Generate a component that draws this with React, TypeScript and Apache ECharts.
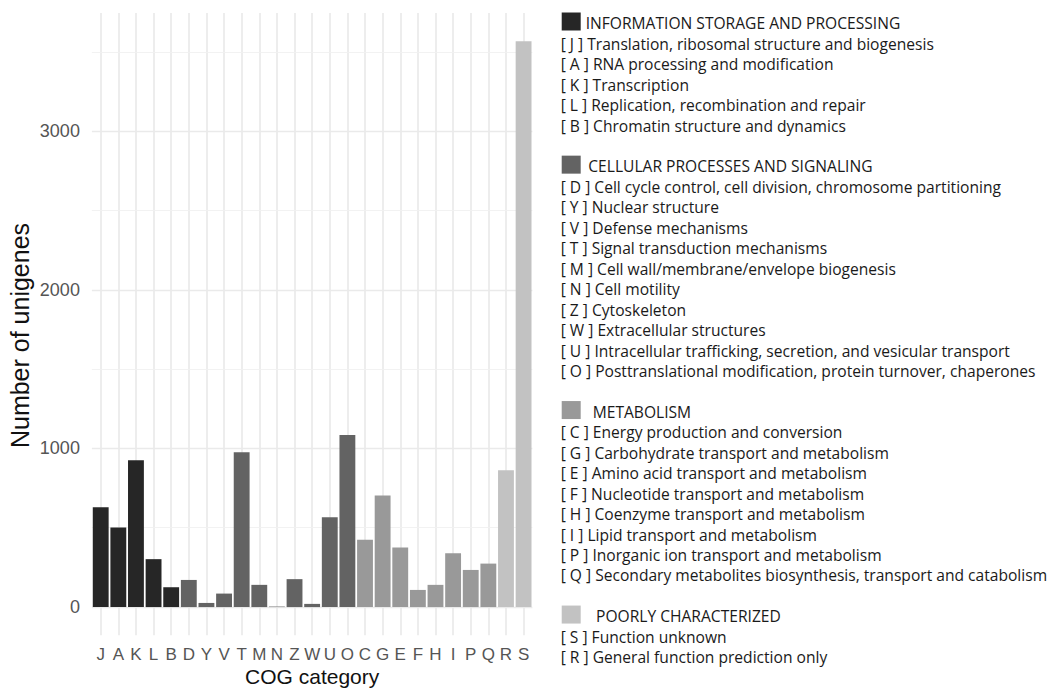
import React, { useEffect, useRef } from "react";
import * as echarts from "echarts";

const categories = ["J","A","K","L","B","D","Y","V","T","M","N","Z","W","U","O","C","G","E","F","H","I","P","Q","R","S"];
const counts = [629,501,925,302,125,171,26,85,976,140,3,176,20,566,1085,425,703,375,108,140,339,234,274,862,3567];
const groupOfCategory = [0,0,0,0,0,1,1,1,1,1,1,1,1,1,1,2,2,2,2,2,2,2,2,3,3];
const groupColors = ["#262626","#636363","#999999","#c2c2c2"];
const groupTitles = [
  "INFORMATION STORAGE AND PROCESSING",
  "CELLULAR PROCESSES AND SIGNALING",
  "METABOLISM",
  "POORLY CHARACTERIZED",
];
const groupItems = [
  [
    "[ J ] Translation, ribosomal structure and biogenesis",
    "[ A ] RNA processing and modification",
    "[ K ] Transcription",
    "[ L ] Replication, recombination and repair",
    "[ B ] Chromatin structure and dynamics",
  ],
  [
    "[ D ] Cell cycle control, cell division, chromosome partitioning",
    "[ Y ] Nuclear structure",
    "[ V ] Defense mechanisms",
    "[ T ] Signal transduction mechanisms",
    "[ M ] Cell wall/membrane/envelope biogenesis",
    "[ N ] Cell motility",
    "[ Z ] Cytoskeleton",
    "[ W ] Extracellular structures",
    "[ U ] Intracellular trafficking, secretion, and vesicular transport",
    "[ O ] Posttranslational modification, protein turnover, chaperones",
  ],
  [
    "[ C ] Energy production and conversion",
    "[ G ] Carbohydrate transport and metabolism",
    "[ E ] Amino acid transport and metabolism",
    "[ F ] Nucleotide transport and metabolism",
    "[ H ] Coenzyme transport and metabolism",
    "[ I ] Lipid transport and metabolism",
    "[ P ] Inorganic ion transport and metabolism",
    "[ Q ] Secondary metabolites biosynthesis, transport and catabolism",
  ],
  [
    "[ S ] Function unknown",
    "[ R ] General function prediction only",
  ],
];
const yTickLabels = [0, 1000, 2000, 3000];
const yGridValues = [0, 500, 1000, 1500, 2000, 2500, 3000, 3500];
const xTitle = "COG category";
const yTitle = "Number of unigenes";

export default function App() {
  const ref = useRef<HTMLDivElement>(null);
  useEffect(() => {
    if (!ref.current) return;
    const chart = echarts.init(ref.current, null, { renderer: "svg" });

    const titleX = [585.7, 588.3, 592.7, 596];
    const legendFont = '15.6px "Open Sans"';
    const legendGraphics: any[] = [];
    let line = 0;
    const lineY = (i: number) => 23.3 + 20.45 * i;
    groupTitles.forEach((t, gi) => {
      const ty = lineY(line);
      legendGraphics.push({
        type: "rect",
        shape: { x: 561.7, y: ty - 10.8, width: 19, height: 18 },
        style: { fill: groupColors[gi] },
      });
      legendGraphics.push({
        type: "text",
        style: {
          text: t, x: titleX[gi], y: ty, fill: "#1a1a1a",
          font: legendFont, verticalAlign: "middle", align: "left",
        },
      });
      line++;
      groupItems[gi].forEach((it) => {
        legendGraphics.push({
          type: "text",
          style: {
            text: it, x: 560.7, y: lineY(line), fill: "#1a1a1a",
            font: legendFont, verticalAlign: "middle", align: "left",
          },
        });
        line++;
      });
      line++;
    });
    legendGraphics.push({
      type: "text",
      x: 20,
      y: 335.5,
      rotation: Math.PI / 2,
      style: {
        text: yTitle, x: 0, y: 0, fill: "#111111",
        font: '25px "Liberation Sans"', verticalAlign: "middle", align: "center",
      },
    });
    legendGraphics.push({
      type: "text",
      style: {
        text: xTitle, x: 312.2, y: 676.5, fill: "#111111",
        font: '21px "Liberation Sans"', verticalAlign: "middle", align: "center",
      },
    });

    const option: any = {
      animation: false,
      backgroundColor: "#ffffff",
      grid: { left: 91.9, right: 522.6, top: 13, bottom: 52.7, containLabel: false, outerBoundsMode: "none" },
      xAxis: {
        type: "category",
        data: categories,
        boundaryGap: true,
        axisLine: { show: false, onZero: false },
        axisTick: { show: false },
        splitLine: { show: false },
        axisLabel: { fontSize: 17, color: "#555555", fontFamily: "Liberation Sans", margin: 11, interval: 0 },
      },
      yAxis: {
        type: "value",
        min: -178,
        max: 3745,
        axisLine: { show: false },
        axisTick: { show: false },
        splitLine: { show: false },
        axisLabel: {
          customValues: yTickLabels,
          fontSize: 18,
          color: "#555555",
          fontFamily: "Liberation Sans",
          margin: 12,
          formatter: (v: number) => (yTickLabels.indexOf(v) >= 0 ? String(v) : ""),
        },
      },
      series: [
        {
          type: "bar",
          barCategoryGap: "10%",
          data: counts.map((v, i) => ({ value: v, itemStyle: { color: groupColors[groupOfCategory[i]] } })),
          markLine: {
            silent: true,
            z: 1,
            symbol: ["none", "none"],
            label: { show: false },
            emphasis: { disabled: true },
            animation: false,
            data: [
              ...categories.map((c) => ({ xAxis: c, lineStyle: { color: "#e9e9e9", width: 1.6, type: "solid" } })),
              ...yGridValues.map((v) => ({
                yAxis: v,
                lineStyle: { color: v % 1000 === 0 ? "#eaeaea" : "#f0f0f0", width: v % 1000 === 0 ? 1.3 : 0.9, type: "solid" },
              })),
            ],
          },
        },
      ],
      graphic: legendGraphics,
    };
    chart.setOption(option);
    return () => chart.dispose();
  }, []);
  return (
    <div
      ref={ref}
      style={{ position: "absolute", left: 0, top: 0, width: 1055, height: 688, background: "#fff" }}
    />
  );
}
